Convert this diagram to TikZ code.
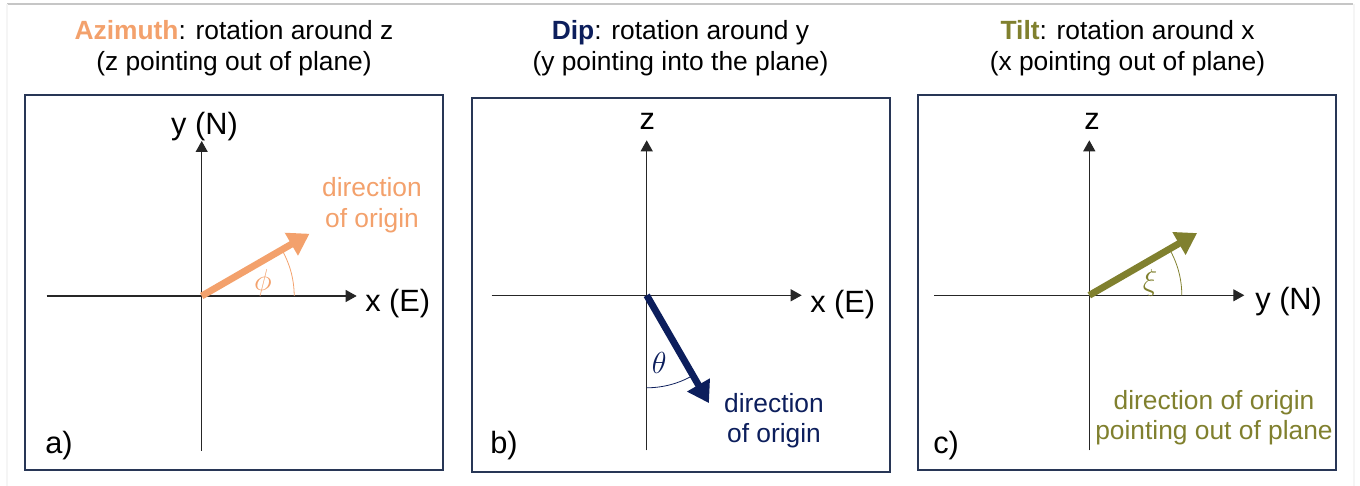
\documentclass[tikz,border=0pt]{standalone}
\usepackage{fontspec}
\setmainfont{Liberation Sans}
\usetikzlibrary{arrows.meta, calc}
\definecolor{colA}{RGB}{243,161,108}
\definecolor{colB}{RGB}{12,30,92}
\definecolor{colC}{RGB}{128,128,46}
\definecolor{colF}{RGB}{40,54,86}
\tikzset{
  pbox/.style={draw=colF, line width=1.1pt},
  ax/.style={-{Triangle[length=0.22cm, width=0.24cm]}, line width=0.65pt, black!85},
  dar/.style={-{Triangle[length=0.42cm, width=0.5cm]}, line width=3.9pt, #1},
  ang/.style={line width=0.45pt, #1},
  ttl/.style={font=\fontsize{15}{18}\selectfont, align=center, inner sep=0pt},
  alab/.style={font=\fontsize{17.5}{21}\selectfont, inner sep=0pt},
  dlab/.style={font=\fontsize{15}{17.6}\selectfont, align=center, inner sep=0pt, text=#1},
  glab/.style={font=\fontsize{18}{20}\selectfont, inner sep=0pt, text=#1},
}
\def\axlen{155}
\def\arlen{124.5}
\def\angr{92.5}

\begin{document}
\begin{tikzpicture}[x=0.02cm, y=0.02cm]
\useasboundingbox (0,0) rectangle (1360,486);

%% page frame
\draw[gray!45, line width=0.6pt] (7,482) -- (1353,482);
\draw[gray!8, line width=0.6pt] (7,482) -- (7,0);
\draw[gray!8, line width=0.6pt] (1354,482) -- (1354,0);

%% ============================================================
%% a) AZIMUTH
%% ============================================================
\node[ttl, anchor=base] (ttlA) at (234,415.3)
  {\textbf{\textcolor{colA}{Azimuth}}: rotation around z\\(z pointing out of plane)};
\draw[pbox] (25,16) rectangle (443,391);

\coordinate (oA) at (201.7,190);
\coordinate (wA) at ($(oA)+(-\axlen,0)$);
\coordinate (eA) at ($(oA)+(\axlen,0)$);
\coordinate (sA) at ($(oA)+(0,-\axlen)$);
\coordinate (nA) at ($(oA)+(0,\axlen)$);
\coordinate (dA) at ($(oA)+(30:\arlen)$);

\draw[ax] (wA) -- (eA);
\draw[ax] (sA) -- (nA);
\draw[ang=colA] ($(oA)+(0:\angr)$) arc[start angle=0, end angle=30, radius=\angr];
\draw[dar=colA] (oA) -- (dA);

\node[alab, anchor=base] (yA) at (204.5,351) {y (N)};
\node[alab, anchor=base west] (xA) at (365,174.3) {x (E)};
\node[glab=colA] (gA) at (263,203) {$\phi$};
\node[dlab=colA, anchor=base] (tA) at (372,258.3) {direction\\of origin};
\node[alab, anchor=base west] (pA) at (45,32) {a)};

%% ============================================================
%% b) DIP
%% ============================================================
\node[ttl, anchor=base] (ttlB) at (680.5,415.3)
  {\textbf{\textcolor{colB}{Dip}}: rotation around y\\(y pointing into the plane)};
\draw[pbox] (472.3,14.3) rectangle (890,388.3);

\coordinate (oB) at (646.7,190.7);
\coordinate (wB) at ($(oB)+(-\axlen,0)$);
\coordinate (eB) at ($(oB)+(\axlen,0)$);
\coordinate (sB) at ($(oB)+(0,-\axlen)$);
\coordinate (nB) at ($(oB)+(0,\axlen)$);
\coordinate (dB) at ($(oB)+(-60:\arlen)$);

\draw[ax] (wB) -- (eB);
\draw[ax] (sB) -- (nB);
\draw[ang=colB] ($(oB)+(-90:\angr)$) arc[start angle=-90, end angle=-60, radius=\angr];
\draw[dar=colB] (oB) -- (dB);

\node[alab, anchor=base] (zB) at (647.3,356.7) {z};
\node[alab, anchor=base west] (xB) at (810,173.7) {x (E)};
\node[glab=colB] (gB) at (659.3,122.7) {$\theta$};
\node[dlab=colB, anchor=base] (tB) at (774,43) {direction\\of origin};
\node[alab, anchor=base west] (pB) at (490,32.7) {b)};

%% ============================================================
%% c) TILT
%% ============================================================
\node[ttl, anchor=base] (ttlC) at (1127.5,415.3)
  {\textbf{\textcolor{colC}{Tilt}}: rotation around x\\(x pointing out of plane)};
\draw[pbox] (917.7,16) rectangle (1335.7,391);

\coordinate (oC) at (1089.3,190.7);
\coordinate (wC) at ($(oC)+(-\axlen,0)$);
\coordinate (eC) at ($(oC)+(\axlen,0)$);
\coordinate (sC) at ($(oC)+(0,-\axlen)$);
\coordinate (nC) at ($(oC)+(0,\axlen)$);
\coordinate (dC) at ($(oC)+(30:\arlen)$);

\draw[ax] (wC) -- (eC);
\draw[ax] (sC) -- (nC);
\draw[ang=colC] ($(oC)+(0:\angr)$) arc[start angle=0, end angle=30, radius=\angr];
\draw[dar=colC] (oC) -- (dC);

\node[alab, anchor=base] (zC) at (1092,356) {z};
\node[alab, anchor=base west] (yC) at (1255,176) {y (N)};
\node[glab=colC] (gC) at (1150,203.3) {$\xi$};
\node[dlab=colC, anchor=base] (tC) at (1214,46) {direction of origin\\pointing out of plane};
\node[alab, anchor=base west] (pC) at (933,32.7) {c)};

\end{tikzpicture}
\end{document}
